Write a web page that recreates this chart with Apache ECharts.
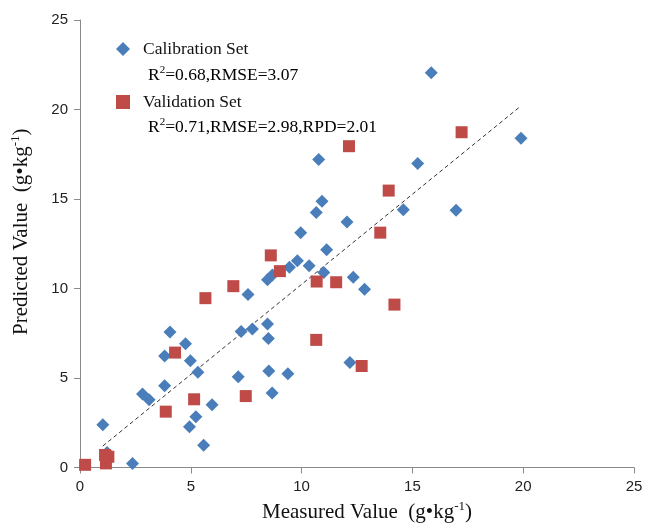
<!DOCTYPE html>
<html>
<head>
<meta charset="utf-8">
<script src="https://cdn.jsdelivr.net/npm/echarts@6/dist/echarts.min.js"></script>
<style>
  html, body { margin: 0; padding: 0; background: #fff; }
  #chart { width: 654px; height: 523px; }
</style>
</head>
<body>
<div id="chart"></div>
<script>
// Calibration set (blue diamonds): measured vs predicted
const calX = [15.85, 19.9, 10.77, 15.24, 10.92, 10.66, 14.59, 16.97, 12.05, 9.96,
  11.13, 9.81, 9.45, 10.34, 11.0, 12.33, 12.84, 8.46, 8.68, 7.58,
  8.46, 7.27, 7.78, 8.5, 4.06, 4.76, 3.82, 4.98, 5.32, 7.14,
  8.52, 9.38, 12.18, 8.67, 3.82, 2.82, 3.12, 5.96, 5.23, 4.94,
  5.58, 1.03, 2.37, 1.22];
const calY = [22.05, 18.4, 17.2, 16.98, 14.87, 14.25, 14.4, 14.37, 13.71, 13.12,
  12.16, 11.55, 11.19, 11.27, 10.9, 10.63, 9.96, 10.49, 10.75, 9.66,
  8.02, 7.6, 7.74, 7.2, 7.57, 6.92, 6.23, 5.97, 5.32, 5.07,
  5.39, 5.24, 5.86, 4.16, 4.57, 4.1, 3.79, 3.51, 2.84, 2.28,
  1.25, 2.39, 0.22, 0.84];

// Validation set (red squares)
const valX = [17.22, 12.14, 13.93, 13.55, 8.61, 9.02, 6.92, 5.66, 10.68, 11.56,
  14.19, 10.66, 12.71, 4.29, 5.15, 7.48, 3.87, 1.13, 1.28, 1.17, 0.23];
const valY = [18.73, 17.95, 15.47, 13.12, 11.85, 10.97, 10.13, 9.46, 10.39, 10.35,
  9.1, 7.13, 5.67, 6.42, 3.81, 3.99, 3.12, 0.7, 0.6, 0.23, 0.15];

// Dashed fit line end points
const fitX = [1.03, 19.9];
const fitY = [1.2, 20.2];

const axisTicks = [0, 5, 10, 15, 20, 25];
const calStats = ['0.68', '3.07'];
const valStats = ['0.71', '2.98', '2.01'];

const zip = (xs, ys) => xs.map((x, i) => [x, ys[i]]);

const serif = '"Liberation Serif", "Times New Roman", serif';
const sans = '"Liberation Sans", Arial, sans-serif';

const unitRich = {
  t: { fontFamily: serif, fontSize: 21, color: '#111', lineHeight: 24 },
  sup: { fontFamily: serif, fontSize: 13, color: '#111', lineHeight: 13, verticalAlign: 'top' }
};
const statRich = {
  t: { fontFamily: serif, fontSize: 17.5, color: '#111', lineHeight: 20 },
  sup: { fontFamily: serif, fontSize: 11, color: '#111', lineHeight: 11, verticalAlign: 'top' }
};

const chart = echarts.init(document.getElementById('chart'));

const axisCommon = {
  type: 'value',
  min: 0,
  max: 25,
  interval: 5,
  splitLine: { show: false },
  axisLine: { show: true, lineStyle: { color: '#8a8a8a', width: 1 } },
  axisTick: { show: true, length: 6, lineStyle: { color: '#8a8a8a' } },
  axisLabel: {
    fontFamily: sans, fontSize: 15, color: '#222', margin: 12,
    formatter: v => (axisTicks.indexOf(v) >= 0 ? String(v) : '')
  },
  nameLocation: 'middle'
};

chart.setOption({
  animation: false,
  backgroundColor: '#fff',
  grid: { left: 80, right: 20, top: 20, bottom: 55.5, containLabel: false, outerBoundsMode: 'none' },
  xAxis: Object.assign({}, axisCommon, {
    name: '{t|Measured Value  (g•kg}{sup|-1}{t|)}',
    nameGap: 33,
    nameTextStyle: { rich: unitRich, padding: [0, 0, 0, 20] }
  }),
  yAxis: Object.assign({}, axisCommon, {
    name: '{t|Predicted Value  (g•kg}{sup|-1}{t|)}',
    nameGap: 47,
    nameTextStyle: { rich: unitRich, padding: [0, 0, 0, 24] }
  }),
  legend: {
    orient: 'vertical',
    left: 116,
    top: 39,
    padding: 0,
    itemGap: 33,
    itemWidth: 14,
    itemHeight: 14,
    textStyle: { fontFamily: serif, fontSize: 17.5, color: '#111', lineHeight: 20, padding: [0, 0, 0, 8] },
    data: ['Calibration Set', 'Validation Set']
  },
  graphic: [
    {
      type: 'text', left: 148, top: 65,
      style: { text: '{t|R}{sup|2}{t|=' + calStats[0] + ',RMSE=' + calStats[1] + '}', rich: statRich }
    },
    {
      type: 'text', left: 148, top: 117,
      style: { text: '{t|R}{sup|2}{t|=' + valStats[0] + ',RMSE=' + valStats[1] + ',RPD=' + valStats[2] + '}', rich: statRich }
    }
  ],
  series: [
    {
      name: 'Fit',
      type: 'line',
      data: zip(fitX, fitY),
      symbol: 'none',
      silent: true,
      lineStyle: { color: '#333', width: 1, type: [4, 3] },
      z: 1
    },
    {
      name: 'Calibration Set',
      type: 'scatter',
      symbol: 'diamond',
      symbolSize: 13,
      data: zip(calX, calY),
      itemStyle: { color: '#4a7ebb', opacity: 1 },
      z: 2
    },
    {
      name: 'Validation Set',
      type: 'scatter',
      symbol: 'rect',
      symbolSize: 12,
      data: zip(valX, valY),
      itemStyle: { color: '#be4b48', opacity: 1 },
      z: 3
    }
  ]
});
</script>
</body>
</html>
